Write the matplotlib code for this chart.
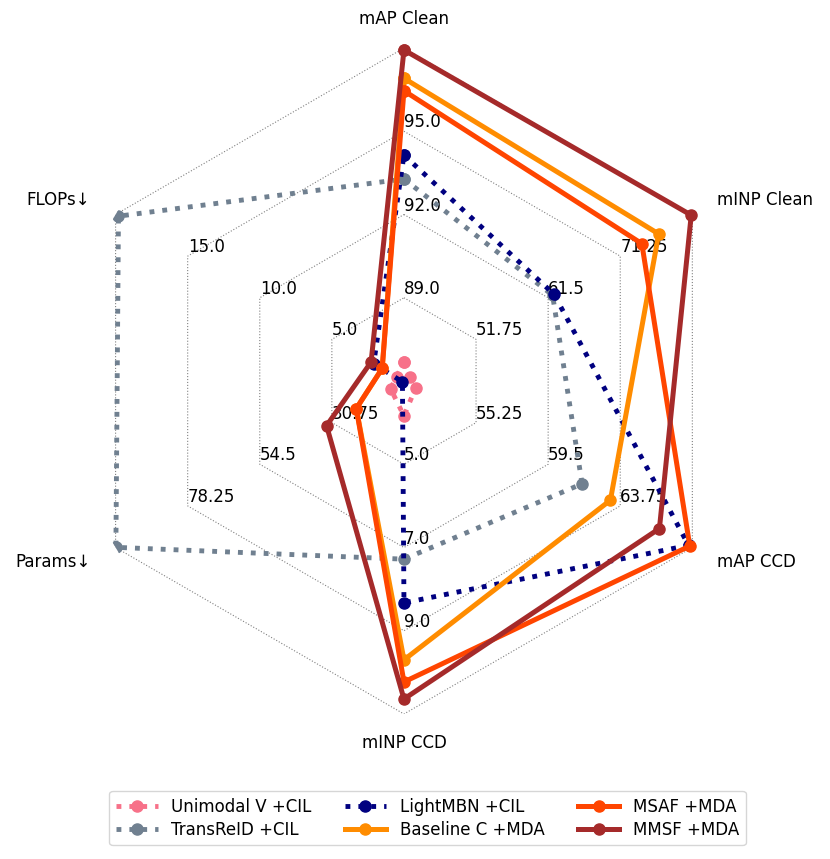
import numpy as np
import matplotlib
matplotlib.use("Agg")
import matplotlib.pyplot as plt

# axes of the radar, clockwise from the top
axis_names = ["mAP Clean", "mINP Clean", "mAP CCD", "mINP CCD", "Params↓", "FLOPs↓"]
axis_lo = [86.0, 42.0, 51.0, 3.0, 7.0, 0.0]
axis_hi = [98.0, 81.0, 68.0, 11.0, 102.0, 20.0]

methods = ["Unimodal V +CIL", "TransReID +CIL", "LightMBN +CIL",
           "Baseline C +MDA", "MSAF +MDA", "MMSF +MDA"]
unimodal_v = [86.67, 42.86, 51.69, 3.84, 11.4, 0.51]
transreid = [93.28, 62.1, 61.5, 7.28, 101.9, 19.8]
lightmbn = [94.14, 62.3, 67.78, 8.33, 7.5, 2.1]
baseline_c = [96.91, 76.45, 63.17, 9.70, 22.7, 1.51]
msaf = [96.46, 74.17, 67.85, 10.23, 22.7, 1.51]
mmsf = [97.93, 80.85, 66.06, 10.64, 32.5, 2.28]

colors = ["#f77189", "slategray", "navy", "darkorange", "orangered", "brown"]
styles = [":", ":", ":", "-", "-", "-"]
clipped = [False, True, False, False, False, False]


def normalize(vals):
    return [(v - lo) / (hi - lo) for v, lo, hi in zip(vals, axis_lo, axis_hi)]


n = len(axis_names)
angles = np.linspace(0, 2 * np.pi, n, endpoint=False)
angles_closed = np.append(angles, angles[0])

fig = plt.figure(figsize=(8.3, 8.59), dpi=100)
ax = fig.add_axes([0.0855, 0.1688, 0.8024, 0.7753], projection="polar")
ax.set_theta_offset(np.pi / 2)
ax.set_theta_direction(-1)
ax.set_ylim(0, 1)
ax.set_xticks([])
ax.set_yticks([])
ax.grid(False)
ax.spines["polar"].set_visible(False)

# hexagon grid
for k in range(1, 5):
    ax.plot(angles_closed, [k / 4] * (n + 1), ls=":", color="gray", lw=0.8, zorder=1)

# ring values on every axis
for i in range(n):
    for k in range(1, 4):
        val = axis_lo[i] + k * (axis_hi[i] - axis_lo[i]) / 4
        ax.text(angles[i], k / 4, str(round(val, 2)), ha="left", va="bottom",
                fontsize=12, zorder=1)

# axis names
for i, name in enumerate(axis_names):
    deg = np.degrees(angles[i])
    if np.isclose(deg, 0) or np.isclose(deg, 180):
        ha = "center"
    elif deg < 180:
        ha = "left"
    else:
        ha = "right"
    ax.text(angles[i], 1.087, name, ha=ha, va="center", fontsize=12)

all_data = [unimodal_v, transreid, lightmbn, baseline_c, msaf, mmsf]
for name, vals, c, ls, clip in zip(methods, all_data, colors, styles, clipped):
    r = normalize(vals)
    r = r + [r[0]]
    lw = 3.5 if ls == ":" else 3.6
    ax.plot(angles_closed, r, ls=ls, color=c, lw=lw, marker="o", markersize=8,
            label=name, zorder=3, clip_on=clip)

fig.legend(loc="center", bbox_to_anchor=(0.515, 0.0477), ncol=3, fontsize=12,
           labelspacing=0.3, handlelength=2.5)

plt.savefig("out.png", dpi=100)
